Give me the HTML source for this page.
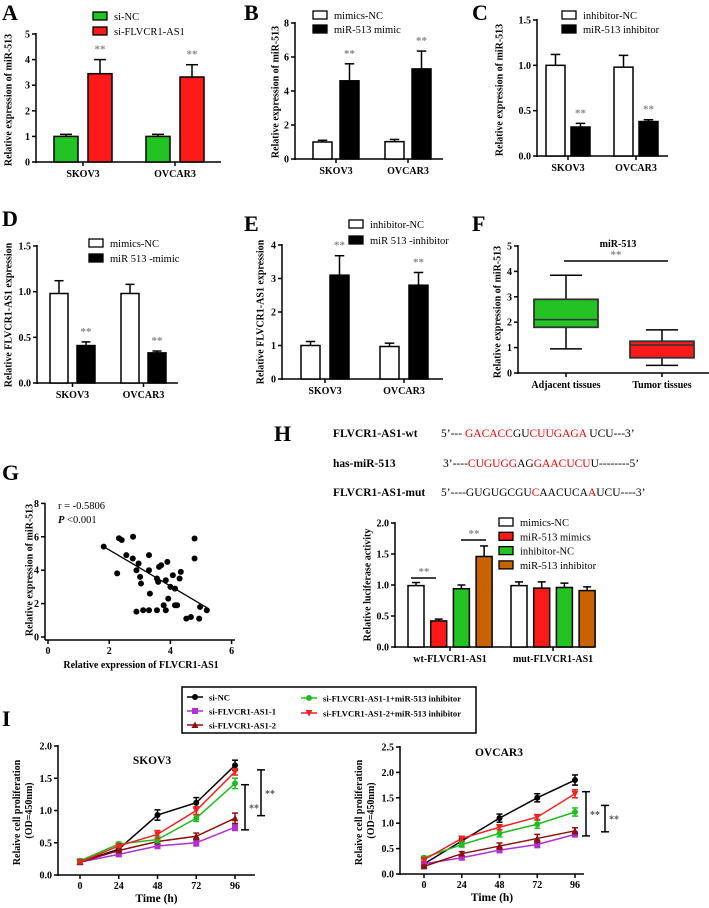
<!DOCTYPE html>
<html><head><meta charset="utf-8"><style>
html,body{margin:0;padding:0;background:#fff;}
svg{display:block;font-family:"Liberation Serif",serif;}
.tk{font-size:10px;font-weight:bold;}
.yl{font-size:10px;font-weight:bold;}
.lg{font-size:10.5px;}
.pl{font-size:22px;font-weight:bold;}
</style></head><body>
<svg id="fig" width="709" height="908" viewBox="0 0 709 908"></svg>
<script>
// ---- data ----
const barCats = ["SKOV3","OVCAR3"];
const aSiNC=[1.0,1.0], aSiNCErr=[0.08,0.08], aSiFL=[3.45,3.32], aSiFLErr=[0.55,0.48];
const bNC=[1.0,1.02], bNCErr=[0.1,0.13], bMimic=[4.6,5.3], bMimicErr=[1.0,1.05];
const cNC=[1.0,0.98], cNCErr=[0.12,0.13], cInh=[0.32,0.38], cInhErr=[0.04,0.02];
const dNC=[0.98,0.98], dNCErr=[0.14,0.1], dMimic=[0.41,0.33], dMimicErr=[0.04,0.02];
const eNC=[1.0,0.97], eNCErr=[0.12,0.1], eInh=[3.1,2.8], eInhErr=[0.58,0.38];
const fCats=["Adjacent tissues","Tumor tissues"];
const fMin=[0.95,0.3], fQ1=[1.8,0.6], fMed=[2.1,1.1], fQ3=[2.9,1.25], fMax=[3.85,1.7];
const gX=[1.82,2.32,2.41,2.26,2.78,2.89,2.56,2.77,2.96,2.89,3.01,3.04,3.30,3.30,3.33,3.56,3.63,3.70,3.90,4.00,3.85,3.78,3.85,3.60,4.08,4.30,4.34,4.15,3.93,4.15,4.22,3.30,4.79,4.79,4.97,5.19,4.67,4.52,4.94,3.56,3.11];
const gY=[5.41,5.91,5.81,3.81,6.0,1.52,4.9,4.7,4.4,4.0,3.6,3.2,4.9,4.0,2.6,3.5,4.2,4.3,4.5,3.0,3.4,1.9,1.6,3.3,3.7,3.5,3.9,2.9,2.3,1.9,1.9,1.6,5.9,4.7,1.8,1.6,1.2,1.1,1.1,1.6,1.6];
const gFit=[[1.82,5.41],[5.2,1.75]];
const hCats=["wt-FLVCR1-AS1","mut-FLVCR1-AS1"];
const hMimNC=[0.99,0.99], hMimNCErr=[0.05,0.06];
const hMim=[0.42,0.95], hMimErr=[0.03,0.1];
const hInhNC=[0.94,0.96], hInhNCErr=[0.06,0.07];
const hInh=[1.46,0.91], hInhErr=[0.17,0.06];
const timeTicks=[0,24,48,72,96];
const skNC=[0.2,0.4,0.93,1.12,1.7], skNCe=[0.03,0.03,0.08,0.08,0.08];
const sk1=[0.2,0.32,0.45,0.5,0.74], sk1e=[0.03,0.03,0.04,0.05,0.05];
const sk2=[0.2,0.38,0.52,0.6,0.88], sk2e=[0.02,0.03,0.03,0.05,0.08];
const skG=[0.22,0.48,0.55,0.88,1.42], skGe=[0.03,0.03,0.05,0.05,0.08];
const skR=[0.2,0.45,0.63,1.0,1.6], skRe=[0.02,0.02,0.06,0.06,0.05];
const ovNC=[0.2,0.65,1.1,1.5,1.85], ovNCe=[0.02,0.05,0.08,0.08,0.1];
const ov1=[0.2,0.32,0.47,0.58,0.78], ov1e=[0.02,0.04,0.05,0.06,0.05];
const ov2=[0.15,0.4,0.55,0.7,0.85], ov2e=[0.02,0.04,0.06,0.08,0.06];
const ovG=[0.32,0.58,0.8,0.98,1.22], ovGe=[0.03,0.05,0.07,0.08,0.08];
const ovR=[0.28,0.7,0.92,1.12,1.58], ovRe=[0.03,0.04,0.05,0.05,0.08];

const NS="http://www.w3.org/2000/svg";
const svg=document.getElementById('fig');
function mk(tag,attrs,name,parent){
  const e=document.createElementNS(NS,tag);
  for(const k in attrs)e.setAttribute(k,attrs[k]);
  
  
  (parent||svg).appendChild(e);return e;
}
function txt(x,y,s,cls,name,extra){
  const a=Object.assign({x:x,y:y,class:cls||'tk'},extra||{});
  if(a['font-size']){a.style='font-size:'+a['font-size'];delete a['font-size'];}
  const t=mk('text',a,name);t.textContent=s;return t;
}
function line(x1,y1,x2,y2,name,w,c){return mk('line',{x1:x1,y1:y1,x2:x2,y2:y2,stroke:c||'#000','stroke-width':w||1.5},name);}
function ylabel(x,cy,s,name){txt(x,cy,s,'yl',name,{transform:'rotate(-90 '+x+' '+cy+')','text-anchor':'middle','dominant-baseline':'middle'});}
function yaxis(ax,y0,yTop,yMax,ticks,fmt,name){
  const sy=v=>y0-(y0-yTop)*v/yMax;
  line(ax,sy(ticks[ticks.length-1])-1,ax,y0+1,name+'-y-axis');
  ticks.forEach(t=>{line(ax-4,sy(t),ax,sy(t),name+'-y-tick');
    txt(ax-6,sy(t)+3.5,fmt(t),'tk',name+'-y-tick-label',{'text-anchor':'end'});});
  return sy;
}
function bar(x,w,v,e,fill,sy,name){
  const yv=sy(v), ye=sy(v+e), cx=x+w/2;
  line(cx,yv,cx,ye,name+'-error-bar',1.5);
  line(cx-w/4,ye,cx+w/4,ye,name+'-error-cap',1.5);
  mk('rect',{x:x,y:yv,width:w,height:sy(0)-yv,fill:fill,stroke:'#000','stroke-width':1.5},name);
}
function star(x,y,name){txt(x,y,'**','tk',name,{'text-anchor':'middle',fill:'#888','font-size':'11px'});}
function legendSq(x,y,fill,label,name){
  mk('rect',{x:x,y:y,width:14,height:8,fill:fill,stroke:'#000','stroke-width':1.3},name+'-swatch');
  txt(x+21,y+8,label,'lg',name);
}
function barPanel(o){
  const sy=yaxis(o.ax,o.y0,o.yTop,o.yMax,o.ticks,o.fmt,o.name);
  line(o.ax,o.y0,o.xEnd,o.y0,o.name+'-x-axis');
  o.series.forEach((s,si)=>{
    s.vals.forEach((v,gi)=>{
      const x=o.groups[gi]+si*o.step;
      bar(x,o.w,v,s.err[gi],s.fill,sy,o.name+'-bar-'+s.key+'-'+o.cats[gi].toLowerCase());
      if(s.star) star(x+o.w/2,sy(v+s.err[gi])-7,o.name+'-significance');
    });
  });
  o.cats.forEach((c,gi)=>{
    const cx=o.groups[gi]+(o.step*(o.series.length-1)+o.w)/2;
    line(cx,o.y0,cx,o.y0+4,o.name+'-x-tick');
    txt(cx,o.y0+15,c,'tk',o.name+'-x-label',{'text-anchor':'middle'});
  });
  return sy;
}
const f0=t=>String(t), f1=t=>t.toFixed(1);

// Panel labels
[['A',2,20],['B',244,20],['C',472,20],['D',2,226],['E',244,231],['F',472,231],['H',274,441],['G',2,480],['I',2,726]].forEach(p=>{
  txt(p[1],p[2],p[0],'pl','panel-label-'+p[0].toLowerCase());
});

// A
barPanel({name:'panel-a',ax:36,y0:162,yTop:34,yMax:5,ticks:[0,1,2,3,4,5],fmt:f0,xEnd:221,groups:[54,146],w:24,step:34,cats:barCats,
 series:[{key:'si-nc',vals:aSiNC,err:aSiNCErr,fill:'#22c322'},{key:'si-flvcr1-as1',vals:aSiFL,err:aSiFLErr,fill:'#ff1a1a',star:true}]});
ylabel(9,100,'Relative expression of miR-513','panel-a-y-title');
legendSq(93,12,'#22c322','si-NC','panel-a-legend-si-nc');
legendSq(93,27,'#ff1a1a','si-FLVCR1-AS1','panel-a-legend-si-flvcr1');

// B
barPanel({name:'panel-b',ax:295,y0:159,yTop:23,yMax:8,ticks:[0,2,4,6,8],fmt:f0,xEnd:443,groups:[313,385],w:19,step:27,cats:barCats,
 series:[{key:'mimics-nc',vals:bNC,err:bNCErr,fill:'#fff'},{key:'mir513-mimic',vals:bMimic,err:bMimicErr,fill:'#000',star:true}]});
ylabel(276,92,'Relative expression of miR-513','panel-b-y-title');
legendSq(313,11,'#fff','mimics-NC','panel-b-legend-mimics-nc');
legendSq(313,25,'#000','miR-513 mimic','panel-b-legend-mimic');

// C
barPanel({name:'panel-c',ax:537,y0:156,yTop:20,yMax:1.5,ticks:[0,0.5,1,1.5],fmt:f1,xEnd:668,groups:[546,614],w:19,step:25,cats:barCats,
 series:[{key:'inhibitor-nc',vals:cNC,err:cNCErr,fill:'#fff'},{key:'mir513-inhibitor',vals:cInh,err:cInhErr,fill:'#000',star:true}]});
ylabel(500,90,'Relative expression of miR-513','panel-c-y-title');
legendSq(562,11,'#fff','inhibitor-NC','panel-c-legend-inhibitor-nc');
legendSq(562,25,'#000','miR-513 inhibitor','panel-c-legend-inhibitor');

// D
barPanel({name:'panel-d',ax:37,y0:383,yTop:246,yMax:1.5,ticks:[0,0.5,1,1.5],fmt:f1,xEnd:178,groups:[50,121],w:18,step:27,cats:barCats,
 series:[{key:'mimics-nc',vals:dNC,err:dNCErr,fill:'#fff'},{key:'mir513-mimic',vals:dMimic,err:dMimicErr,fill:'#000',star:true}]});
ylabel(9,315,'Relative FLVCR1-AS1 expression','panel-d-y-title');
legendSq(89,239,'#fff','mimics-NC','panel-d-legend-mimics-nc');
legendSq(89,254,'#000','miR 513 -mimic','panel-d-legend-mimic');

// E
barPanel({name:'panel-e',ax:282,y0:379,yTop:245,yMax:4,ticks:[0,1,2,3,4],fmt:f0,xEnd:443,groups:[301,380],w:19,step:29,cats:barCats,
 series:[{key:'inhibitor-nc',vals:eNC,err:eNCErr,fill:'#fff'},{key:'mir513-inhibitor',vals:eInh,err:eInhErr,fill:'#000',star:true}]});
ylabel(261,312,'Relative FLVCR1-AS1 expression','panel-e-y-title');
legendSq(349,220,'#fff','inhibitor-NC','panel-e-legend-inhibitor-nc');
legendSq(349,236,'#000','miR 513 -inhibitor','panel-e-legend-inhibitor');

// F box plot
(function(){
  const sy=yaxis(518,373,246,5,[0,1,2,3,4,5],f0,'panel-f');
  line(518,373,709,373,'panel-f-x-axis');
  const left=[534,630], w=64, fills=['#22c322','#ff1a1a'];
  fCats.forEach((c,i)=>{
    const cx=left[i]+w/2, n='panel-f-box-'+(i?'tumor':'adjacent');
    line(cx,sy(fMax[i]),cx,sy(fMin[i]),n+'-whisker',1.5);
    line(cx-16,sy(fMax[i]),cx+16,sy(fMax[i]),n+'-whisker-cap',1.5);
    line(cx-16,sy(fMin[i]),cx+16,sy(fMin[i]),n+'-whisker-cap',1.5);
    mk('rect',{x:left[i],y:sy(fQ3[i]),width:w,height:sy(fQ1[i])-sy(fQ3[i]),fill:fills[i],stroke:'#333','stroke-width':1.8},n);
    line(left[i],sy(fMed[i]),left[i]+w,sy(fMed[i]),n+'-median',1.5,'#333');
    line(cx,373,cx,377,'panel-f-x-tick');
    txt(cx,388,c,'tk',n+'-label',{'text-anchor':'middle'});
  });
  txt(618,247,'miR-513','tk','panel-f-title',{'text-anchor':'middle'});
  line(564,261,668,261,'panel-f-significance-line',1.5);
  star(616,258,'panel-f-significance');
  ylabel(498,312,'Relative expression of miR-513','panel-f-y-title');
})();

// H sequences
(function(){
  const rows=[[433,'FLVCR1-AS1-wt',[['5’--- ','#000'],['GACACC','#e00'],['GU','#000'],['CUUGAGA','#e00'],[' UCU---3’','#000']]],
              [463,'has-miR-513',[['3’----','#000'],['CUGUGG','#e00'],['AG','#000'],['GAACUCU','#e00'],['U--------5’','#000']]],
              [492,'FLVCR1-AS1-mut',[['5’----GUGUGCGU','#000'],['C','#e00'],['AACUCA','#000'],['A','#e00'],['UCU----3’','#000']]]];
  rows.forEach((r,i)=>{
    txt(333,r[0]+4,r[1],'tk','sequence-name-'+i,{'font-size':'11.5px'});
    const t=txt(i===0?441:i===1?443:441,r[0]+4,'','lg','sequence-'+i,{'font-size':'11.5px'});
    r[2].forEach(p=>{const s=document.createElementNS(NS,'tspan');s.setAttribute('fill',p[1]);s.textContent=p[0];t.appendChild(s);});
  });
})();

// H luciferase
(function(){
  const o={name:'panel-h',ax:395,y0:647,yTop:523,yMax:2,ticks:[0,0.5,1,1.5,2],fmt:f1,xEnd:594,groups:[408,511],w:16,step:22.7,cats:hCats,
   series:[{key:'mimics-nc',vals:hMimNC,err:hMimNCErr,fill:'#fff'},{key:'mir513-mimics',vals:hMim,err:hMimErr,fill:'#ff1a1a'},
           {key:'inhibitor-nc',vals:hInhNC,err:hInhNCErr,fill:'#22c322'},{key:'mir513-inhibitor',vals:hInh,err:hInhErr,fill:'#c86400'}]};
  const sy=barPanel(o);
  line(411,578,436,578,'panel-h-significance-line',1.5);star(424,575,'panel-h-significance');
  line(461,540,486,540,'panel-h-significance-line',1.5);star(474,537,'panel-h-significance');
  ylabel(368,585,'Relative luciferase activity','panel-h-y-title');
  [['#fff','mimics-NC'],['#ff1a1a','miR-513 mimics'],['#22c322','inhibitor-NC'],['#c86400','miR-513 inhibitor']].forEach((l,i)=>{
    legendSq(499,518+i*14.3,l[0],l[1],'panel-h-legend-'+i);
  });
})();

// G scatter
(function(){
  const sx=v=>48+30.6*v, sy=v=>637-16.7*v;
  line(45,503,45,640,'panel-g-y-axis');line(45,640,235,640,'panel-g-x-axis');
  [0,2,4,6,8].forEach(t=>{line(41,sy(t),45,sy(t),'panel-g-y-tick');txt(39,sy(t)+3.5,String(t),'tk','panel-g-y-tick-label',{'text-anchor':'end'});});
  [0,2,4,6].forEach(t=>{line(sx(t),640,sx(t),644,'panel-g-x-tick');txt(sx(t),654,String(t),'tk','panel-g-x-tick-label',{'text-anchor':'middle'});});
  gX.forEach((x,i)=>mk('circle',{cx:sx(x),cy:sy(gY[i]),r:3,fill:'#000'},'panel-g-point'));
  line(sx(gFit[0][0]),sy(gFit[0][1]),sx(gFit[1][0]),sy(gFit[1][1]),'panel-g-regression-line',1.3);
  txt(58,509,'r = -0.5806','lg','panel-g-r-value');
  const p=txt(58,523,'','lg','panel-g-p-value');
  p.innerHTML='<tspan font-style="italic" font-weight="bold">P</tspan> &lt;0.001';
  ylabel(30,570,'Relative expression of miR-513','panel-g-y-title');
  txt(141,668,'Relative expression of FLVCR1-AS1','tk','panel-g-x-title',{'text-anchor':'middle'});
})();

function marker(x,y,t,c,name){
  if(t==='c')mk('circle',{cx:x,cy:y,r:3,fill:c},name);
  else if(t==='s')mk('rect',{x:x-3,y:y-3,width:6,height:6,fill:c},name);
  else if(t==='t')mk('polygon',{points:(x-3.5)+','+(y+3)+' '+(x+3.5)+','+(y+3)+' '+x+','+(y-3.5),fill:c},name);
  else mk('polygon',{points:(x-3.5)+','+(y-3)+' '+(x+3.5)+','+(y-3)+' '+x+','+(y+3.5),fill:c},name);
}
// I legend
(function(){
  mk('rect',{x:182,y:687,width:294,height:46,fill:'none',stroke:'#000','stroke-width':1.5},'panel-i-legend');
  const L=[[195,697,'#000','c','si-NC'],[195,711,'#b030d0','s','si-FLVCR1-AS1-1'],[195,725,'#8b1010','t','si-FLVCR1-AS1-2'],
           [309,698,'#22bb22','c','si-FLVCR1-AS1-1+miR-513 inhibitor'],[309,713,'#ee2222','v','si-FLVCR1-AS1-2+miR-513 inhibitor']];
  L.forEach((l,i)=>{line(l[0]-8,l[1],l[0]+8,l[1],'panel-i-legend-line-'+i,1.5,l[2]);marker(l[0],l[1],l[3],l[2],'panel-i-legend-marker-'+i);
    txt(l[0]+14,l[1]+3.5,l[4],'tk','panel-i-legend-entry-'+i,{'font-size':'8.6px'});});
})();
function linePanel(o){
  const sy=yaxis(o.ax,o.y0,o.yTop,o.yMax,o.ticks,f1,o.name);
  const sx=v=>o.x0+(o.x96-o.x0)*v/96;
  line(o.ax,o.y0,o.xEnd,o.y0,o.name+'-x-axis');
  timeTicks.forEach(t=>{line(sx(t),o.y0,sx(t),o.y0+4,o.name+'-x-tick');txt(sx(t),o.y0+14,String(t),'tk',o.name+'-x-tick-label',{'text-anchor':'middle'});});
  txt((o.ax+o.xEnd)/2,o.y0+27,'Time (h)','tk',o.name+'-x-title',{'text-anchor':'middle','font-size':'11.5px'});
  txt(o.titleX,o.titleY,o.title,'tk',o.name+'-title',{'text-anchor':'middle','font-size':'11.5px'});
  o.series.forEach(s=>{
    const pts=s.v.map((v,i)=>sx(timeTicks[i])+','+sy(v)).join(' ');
    mk('polyline',{points:pts,fill:'none',stroke:s.c,'stroke-width':1.5},o.name+'-line-'+s.k);
    s.v.forEach((v,i)=>{const x=sx(timeTicks[i]);
      line(x,sy(v-s.e[i]),x,sy(v+s.e[i]),o.name+'-error-'+s.k,1.5,s.c);
      line(x-3,sy(v+s.e[i]),x+3,sy(v+s.e[i]),o.name+'-error-cap-'+s.k,1.5,s.c);
      line(x-3,sy(v-s.e[i]),x+3,sy(v-s.e[i]),o.name+'-error-cap-'+s.k,1.5,s.c);
      marker(x,sy(v),s.m,s.c,o.name+'-point-'+s.k);});
  });
  o.brackets.forEach((b,i)=>{
    line(b[0],sy(b[1]),b[0],sy(b[2]),o.name+'-bracket-'+i,1.5);
    line(b[0]-4,sy(b[1]),b[0]+4,sy(b[1]),o.name+'-bracket-cap-'+i,1.5);
    line(b[0]-4,sy(b[2]),b[0]+4,sy(b[2]),o.name+'-bracket-cap-'+i,1.5);
    txt(b[0]+4,sy((b[1]+b[2])/2)+4,'**','tk',o.name+'-bracket-label-'+i,{fill:'#555'});
  });
  txt(o.ax-40,(o.y0+o.yTop)/2,'Relaive cell proliferation','yl',o.name+'-y-title',{transform:'rotate(-90 '+(o.ax-38)+' '+(o.y0+o.yTop)/2+')','text-anchor':'middle'});
  txt(o.ax-26,(o.y0+o.yTop)/2,'(OD=450nm)','yl',o.name+'-y-title-unit',{transform:'rotate(-90 '+(o.ax-26)+' '+(o.y0+o.yTop)/2+')','text-anchor':'middle'});
}
const mkSeries=(a,b,c,d,e,ae,be,ce,de,ee)=>[
 {k:'si-nc',v:a,e:ae,c:'#000',m:'c'},{k:'si-1',v:b,e:be,c:'#b030d0',m:'s'},{k:'si-2',v:c,e:ce,c:'#8b1010',m:'t'},
 {k:'si-1-inh',v:d,e:de,c:'#22bb22',m:'c'},{k:'si-2-inh',v:e,e:ee,c:'#ee2222',m:'v'}];
linePanel({name:'panel-i-skov3',ax:58,y0:875,yTop:746,yMax:2,ticks:[0,0.5,1,1.5,2],x0:80,x96:235,xEnd:255,title:'SKOV3',titleX:152,titleY:764,
 series:mkSeries(skNC,sk1,sk2,skG,skR,skNCe,sk1e,sk2e,skGe,skRe),brackets:[[245,1.4,0.7],[261,1.63,0.92]]});
linePanel({name:'panel-i-ovcar3',ax:400,y0:874,yTop:747,yMax:2.5,ticks:[0,0.5,1,1.5,2,2.5],x0:424,x96:575,xEnd:584,title:'OVCAR3',titleX:499,titleY:756,
 series:mkSeries(ovNC,ov1,ov2,ovG,ovR,ovNCe,ov1e,ov2e,ovGe,ovRe),brackets:[[586,1.62,0.75],[605,1.35,0.83]]});
</script>
</body></html>
